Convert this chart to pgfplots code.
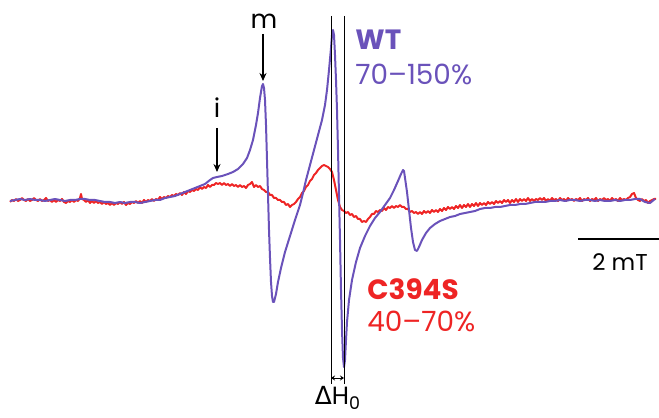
\documentclass[border=0pt]{standalone}
\usepackage{pgfplots}
\pgfplotsset{compat=1.18}
\usepackage{fontspec}
\setmainfont{Poppins}
\newfontfamily\dvfont{DejaVu Sans}
\usetikzlibrary{arrows.meta}
\definecolor{wtpurple}{RGB}{106,82,186}
\definecolor{mutred}{RGB}{238,36,36}
\begin{document}
\begin{tikzpicture}
\begin{axis}[
    x=0.5bp, y=0.5bp, y dir=reverse,
    xmin=0, xmax=659, ymin=0, ymax=418,
    hide axis, clip=false,
]
% C394S (red)
\addplot[mutred, line width=1pt, line join=round] coordinates {
(10,202) (12,200) (14,201) (16,199) (18,201) (20,200) (22,198) (24,200) (26,201) (28,199)
(30,201) (32,200) (34,198) (36,200) (38,201) (40,199) (42,201) (44,200) (46,198) (48,201)
(50,200) (52,202) (54,200) (56,202) (58,200) (60,201) (62,199) (64,202) (66,203) (68,201)
(70,202) (72,200) (74,202) (76,200) (78,201) (80,198) (81,194) (82,199) (84,200) (86,202)
(88,200) (90,203) (92,201) (94,203) (96,201) (98,203) (100,202) (102,204) (104,202) (106,204)
(108,203) (110,205) (112,203) (114,205) (116,203) (118,204) (120,202) (122,204) (124,202) (126,205)
(128,203) (130,204) (132,202) (134,203) (136,201) (138,203) (140,201) (142,203) (144,200) (146,202)
(148,200) (150,201) (152,199) (154,201) (156,199) (158,200) (160,197) (162,199) (164,197) (166,198)
(168,196) (170,197) (172,195) (174,196) (176,194) (178,195) (180,193) (182,195) (184,192) (186,194)
(188,191) (190,192) (192,190) (194,191) (196,189) (198,190) (200,187) (202,189) (204,187) (206,188)
(208,185) (210,187) (212,185) (214,185) (216,183) (218,184) (220,183) (222,185) (224,183) (226,185)
(228,184) (230,186) (232,184) (234,186) (236,185) (238,187) (240,185) (242,187) (244,186) (246,188)
(248,185) (250,184) (252,182) (254,187) (256,185) (258,187) (260,186) (262,189) (264,190) (266,192)
(268,192) (270,195) (272,195) (274,198) (276,198) (278,200) (280,200) (282,202) (284,202) (286,205)
(288,204) (290,207) (292,205) (294,204) (296,202) (298,199) (300,197) (302,193) (304,191) (306,187)
(308,185) (310,181) (312,179) (314,175) (316,173) (318,170) (320,168) (322,166) (324,165) (326,166)
(328,167) (330,169) (332,172) (334,180) (336,190) (338,200) (340,207) (342,210) (344,211) (346,213)
(348,212) (350,215) (352,214) (354,217) (356,216) (358,219) (360,219) (362,222) (364,221) (366,222)
(368,219) (370,217) (372,214) (374,214) (376,211) (378,212) (380,210) (382,211) (384,208) (386,210)
(388,207) (390,208) (392,206) (394,208) (396,206) (398,207) (400,205) (402,207) (404,207) (406,209)
(408,209) (410,212) (412,211) (414,213) (416,212) (418,214) (420,212) (422,214) (424,211) (426,213)
(428,211) (430,213) (432,210) (434,212) (436,210) (438,212) (440,209) (442,211) (444,208) (446,210)
(448,207) (450,209) (452,207) (454,209) (456,206) (458,208) (460,205) (462,208) (464,205) (466,207)
(468,204) (470,207) (472,204) (474,206) (476,203) (478,206) (480,203) (482,205) (484,203) (486,205)
(488,202) (490,204) (492,202) (494,204) (496,201) (498,203) (500,201) (502,203) (504,200) (506,202)
(508,200) (510,203) (512,200) (514,202) (516,199) (518,202) (520,199) (522,201) (524,199) (526,201)
(528,198) (530,201) (532,199) (534,201) (536,199) (538,200) (540,198) (542,200) (544,198) (546,201)
(548,199) (550,201) (552,198) (554,200) (556,199) (558,201) (560,198) (562,200) (564,199) (566,201)
(568,198) (570,200) (572,199) (574,201) (576,199) (578,200) (580,198) (582,201) (584,199) (586,200)
(588,198) (590,201) (592,199) (594,200) (596,198) (598,201) (600,199) (602,200) (604,198) (606,200)
(608,199) (610,201) (612,198) (614,200) (616,199) (618,201) (620,198) (622,200) (624,199) (626,200)
(628,198) (630,197) (632,194) (634,193) (636,198) (638,200) (640,201) (642,199) (644,201) (646,200)
(648,203) (650,201) (652,200) (654,199) (656,199)
};
% WT (purple)
\addplot[wtpurple, line width=1pt, line join=round] coordinates {
(10,201) (15,200) (20,199) (25,200) (30,199) (35,200) (40,200) (45,201) (50,200) (55,199)
(60,200) (65,201) (70,200) (75,200) (80,199) (85,199) (90,200) (95,200) (100,201) (105,202)
(110,202) (115,203) (120,202) (125,203) (130,202) (135,202) (140,203) (145,202) (150,201) (155,200)
(160,200) (165,198) (170,197) (175,196) (180,194) (185,192) (190,190) (195,188) (200,186) (205,184)
(210,180) (213,178) (217,177) (222,176) (228,174) (233,172) (238,169) (243,164) (247,158) (250,150)
(253,140) (256,125) (258,113) (260,98) (262,86) (263,84) (264,88) (265,100) (266,125) (267,160)
(268,195) (269,230) (270,258) (271,282) (272,296) (273,302) (274,302) (276,294) (278,282) (281,268)
(285,252) (290,236) (295,220) (300,205) (303,193) (306,180) (310,165) (314,150) (318,135) (322,120)
(325,105) (327,90) (329,70) (331,48) (332,35) (333,30) (334,35) (335,55) (336,80) (337,110)
(338,150) (339,195) (340,240) (341,290) (342,330) (343,358) (344,367) (345,360) (346,340) (347,322)
(349,300) (352,280) (356,262) (360,248) (365,236) (370,226) (375,218) (380,212) (385,205) (390,198)
(394,190) (398,181) (401,174) (403,170) (404,171) (405,178) (407,192) (409,210) (411,228) (413,242)
(415,250) (417,251) (419,247) (422,240) (426,233) (430,228) (435,224) (440,221) (445,219) (450,217)
(455,216) (460,214) (465,213) (470,212) (475,211) (480,209) (485,208) (490,208) (495,207) (500,207)
(505,206) (510,205) (515,205) (520,204) (525,204) (530,203) (535,202) (540,202) (545,202) (550,201)
(555,201) (560,200) (565,201) (570,200) (575,200) (580,201) (585,200) (590,200) (595,201) (600,200)
(605,201) (610,201) (615,200) (620,201) (625,200) (630,200) (635,199) (640,199) (645,202) (650,203)
(655,199)
};
% Delta H0 markers
\draw[black, line width=0.45pt] (axis cs:331,16) -- (axis cs:331,384);
\draw[black, line width=0.45pt] (axis cs:344,16) -- (axis cs:344,384);
\draw[black, line width=0.5pt, {Stealth[length=2pt,width=2.5pt]}-{Stealth[length=2pt,width=2.5pt]}]
    (axis cs:331,378) -- (axis cs:344,378);
\node[anchor=base, inner sep=0pt, font=\fontsize{12.5}{13}\selectfont] at (axis cs:338,405)
    {{\dvfont Δ}H\textsubscript{0}};
% peak markers
\draw[black, line width=0.7pt, -{Stealth[length=4pt,width=3.5pt]}] (axis cs:263,34) -- (axis cs:263,81);
\node[anchor=base, inner sep=0pt, font=\fontsize{13}{13}\selectfont] at (axis cs:264,29) {m};
\draw[black, line width=0.7pt, -{Stealth[length=4pt,width=3.5pt]}] (axis cs:217,128) -- (axis cs:217,172);
\node[anchor=base, inner sep=0pt, font=\fontsize{13}{13}\selectfont] at (axis cs:217,118) {i};
% labels
\node[anchor=base west, inner sep=0pt, text=wtpurple, font=\fontsize{14}{14}\selectfont\bfseries] at (axis cs:355,50) {WT};
\node[anchor=base west, inner sep=0pt, text=wtpurple, font=\fontsize{14}{14}\selectfont] at (axis cs:355,85) {70–150\%};
\node[anchor=base west, inner sep=0pt, text=mutred, font=\fontsize{14}{14}\selectfont\bfseries] at (axis cs:367,300) {C394S};
\node[anchor=base west, inner sep=0pt, text=mutred, font=\fontsize{14}{14}\selectfont] at (axis cs:367,332) {40–70\%};
% scale bar
\draw[black, line width=0.75pt] (axis cs:578,239) -- (axis cs:659,239);
\node[anchor=base, inner sep=0pt, font=\fontsize{11.5}{12}\selectfont] at (axis cs:620,271) {2 mT};
\end{axis}
\pgfresetboundingbox
\path (current axis.south west) rectangle (current axis.north east);
\end{tikzpicture}
\end{document}
